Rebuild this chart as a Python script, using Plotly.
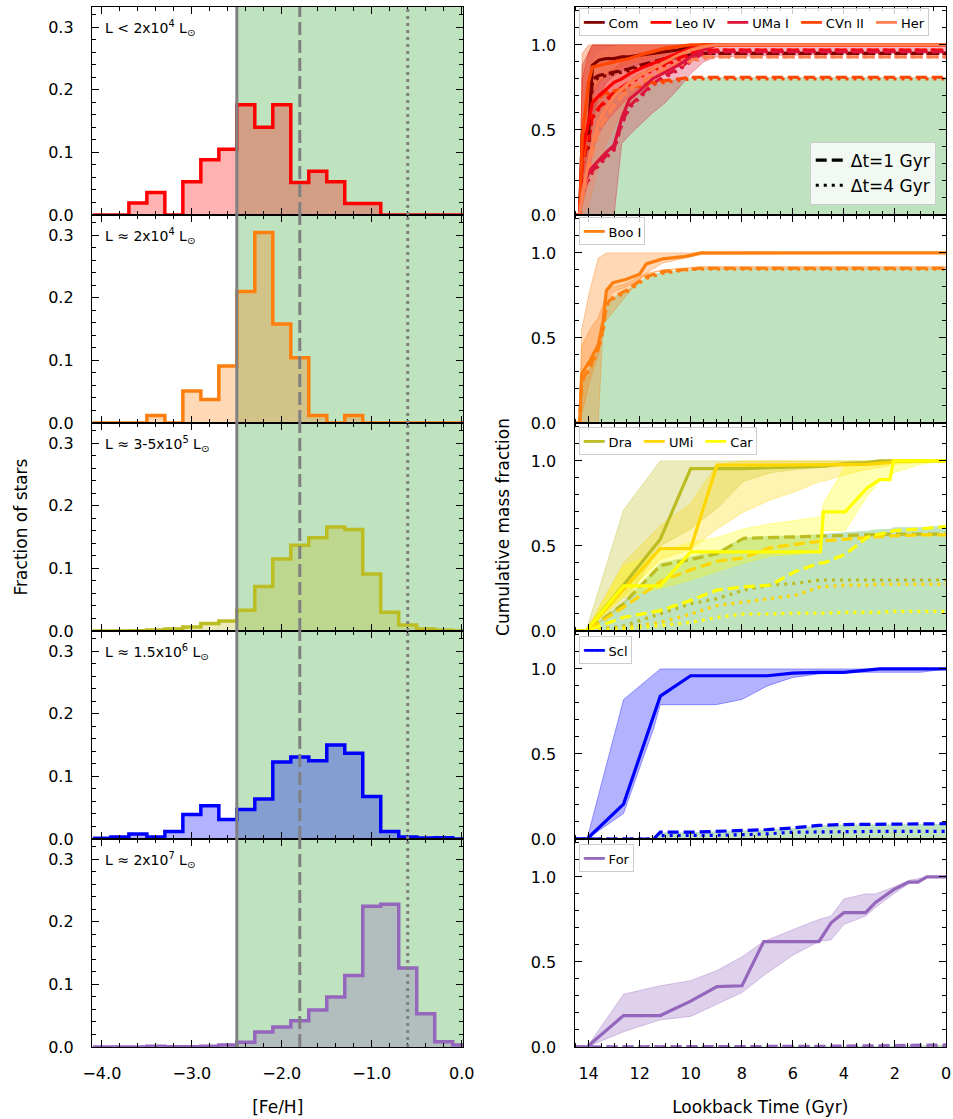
import plotly.graph_objects as go
from plotly.subplots import make_subplots

FONT = "DejaVu Sans"

# ---------------- left column: metallicity distributions ----------------
feh_edges = [-4.1, -3.9, -3.7, -3.5, -3.3, -3.1, -2.9, -2.7, -2.5, -2.3, -2.1,
             -1.9, -1.7, -1.5, -1.3, -1.1, -0.9, -0.7, -0.5, -0.3, -0.1, 0.1]
hist_uf = [0, 0, 0.019, 0.036, 0, 0.053, 0.088, 0.105, 0.176, 0.14, 0.176,
           0.052, 0.07, 0.053, 0.0185, 0.0185, 0, 0, 0, 0, 0]
hist_boo = [0, 0, 0, 0.012, 0, 0.051, 0.0375, 0.091, 0.21, 0.304, 0.158,
            0.104, 0.012, 0, 0.012, 0, 0, 0, 0, 0, 0]
hist_mid = [0, 0, 0.0005, 0.0015, 0.003, 0.0065, 0.012, 0.016, 0.033, 0.071, 0.115,
            0.137, 0.149, 0.166, 0.162, 0.091, 0.03, 0.0096, 0.003, 0.001, 0]
hist_scl = [0.001, 0.003, 0.008, 0.003, 0.012, 0.039, 0.053, 0.031, 0.047, 0.064, 0.123,
            0.131, 0.125, 0.15, 0.137, 0.068, 0.012, 0.003, 0.0015, 0.002, 0]
hist_for = [0, 0, 0, 0.001, 0.0005, 0.0005, 0.001, 0.003, 0.0075, 0.024, 0.032,
            0.042, 0.059, 0.08, 0.114, 0.2245, 0.228, 0.126, 0.053, 0.0085, 0.003]
hist_sets = [hist_uf, hist_boo, hist_mid, hist_scl, hist_for]
hist_colors = [(255, 0, 0), (255, 127, 14), (188, 189, 34), (0, 0, 255), (148, 103, 189)]
lum_labels = ["L < 2x10<sup>4</sup> L<sub>⊙</sub>",
              "L ≈ 2x10<sup>4</sup> L<sub>⊙</sub>",
              "L ≈ 3-5x10<sup>5</sup> L<sub>⊙</sub>",
              "L ≈ 1.5x10<sup>6</sup> L<sub>⊙</sub>",
              "L ≈ 2x10<sup>7</sup> L<sub>⊙</sub>"]
feh_cut = -2.5
feh_dash = -1.8
feh_dot = -0.6

# ---------------- right column: cumulative SFHs ----------------
t_uf = [14.55, 14.35, 14.25, 14.0, 13.85, 13.6, 13.3, 13.0, 12.7, 12.4, 12.0, 11.5, 11.0, 10.5, 10.0, 9.5, 9.0, 0.0]
com_solid = [0, 0, 0.47, 0.48, 0.88, 0.91, 0.92, 0.92, 0.93, 0.93, 0.94, 0.95, 0.96, 0.97, 0.99, 1.0, 1.0, 1.0]
com_dash = [0, 0, 0.33, 0.42, 0.80, 0.82, 0.83, 0.84, 0.85, 0.86, 0.88, 0.90, 0.92, 0.93, 0.94, 0.95, 0.95, 0.95]
com_dot = [0, 0, 0.32, 0.40, 0.78, 0.81, 0.82, 0.83, 0.84, 0.85, 0.87, 0.89, 0.91, 0.93, 0.94, 0.95, 0.95, 0.95]
com_lo = [0, 0, 0.10, 0.28, 0.55, 0.70, 0.78, 0.82, 0.85, 0.87, 0.89, 0.91, 0.93, 0.95, 0.97, 0.99, 1.0, 1.0]
com_hi = [0, 0, 0.88, 0.95, 1.0, 1.0, 1.0, 1.0, 1.0, 1.0, 1.0, 1.0, 1.0, 1.0, 1.0, 1.0, 1.0, 1.0]
leo_solid = [0, 0, 0.36, 0.55, 0.66, 0.70, 0.74, 0.78, 0.80, 0.83, 0.86, 0.89, 0.92, 0.95, 0.98, 1.0, 1.0, 1.0]
leo_dash = [0, 0, 0.30, 0.45, 0.58, 0.63, 0.68, 0.72, 0.75, 0.78, 0.82, 0.86, 0.89, 0.92, 0.95, 0.97, 0.97, 0.97]
leo_dot = [0, 0, 0.29, 0.44, 0.57, 0.62, 0.67, 0.71, 0.74, 0.77, 0.81, 0.85, 0.88, 0.91, 0.94, 0.96, 0.97, 0.97]
leo_lo = [0, 0, 0.05, 0.20, 0.38, 0.48, 0.55, 0.60, 0.65, 0.70, 0.75, 0.80, 0.85, 0.90, 0.94, 0.97, 0.99, 1.0]
leo_hi = [0, 0, 0.80, 0.95, 1.0, 1.0, 1.0, 1.0, 1.0, 1.0, 1.0, 1.0, 1.0, 1.0, 1.0, 1.0, 1.0, 1.0]
uma_solid = [0, 0, 0.16, 0.25, 0.28, 0.32, 0.37, 0.41, 0.57, 0.68, 0.73, 0.80, 0.84, 0.88, 0.93, 0.97, 1.0, 1.0]
uma_dash = [0, 0, 0.14, 0.22, 0.26, 0.30, 0.35, 0.39, 0.54, 0.64, 0.70, 0.77, 0.82, 0.86, 0.91, 0.95, 0.96, 0.96]
uma_dot = [0, 0, 0.13, 0.21, 0.25, 0.29, 0.34, 0.38, 0.53, 0.63, 0.69, 0.76, 0.81, 0.85, 0.90, 0.94, 0.96, 0.96]
uma_lo = [0, 0, 0, 0, 0, 0, 0, 0, 0.42, 0.47, 0.53, 0.60, 0.66, 0.74, 0.83, 0.90, 0.93, 0.96]
uma_hi = [0, 0, 0.55, 0.65, 0.72, 0.78, 0.83, 0.86, 0.90, 0.93, 0.95, 0.97, 0.99, 1.0, 1.0, 1.0, 1.0, 1.0]
cvn_solid = [0, 0, 0.45, 0.78, 0.87, 0.88, 0.89, 0.90, 0.91, 0.92, 0.94, 0.96, 0.98, 0.99, 1.0, 1.0, 1.0, 1.0]
cvn_dash = [0, 0, 0.30, 0.55, 0.68, 0.70, 0.72, 0.73, 0.74, 0.75, 0.76, 0.78, 0.79, 0.80, 0.81, 0.81, 0.81, 0.81]
cvn_dot = [0, 0, 0.29, 0.54, 0.67, 0.69, 0.71, 0.72, 0.73, 0.74, 0.75, 0.77, 0.78, 0.79, 0.80, 0.80, 0.80, 0.80]
cvn_lo = [0, 0, 0.20, 0.50, 0.70, 0.78, 0.82, 0.85, 0.87, 0.89, 0.91, 0.93, 0.95, 0.97, 0.99, 1.0, 1.0, 1.0]
cvn_hi = [0, 0, 0.95, 1.0, 1.0, 1.0, 1.0, 1.0, 1.0, 1.0, 1.0, 1.0, 1.0, 1.0, 1.0, 1.0, 1.0, 1.0]
her_solid = [0, 0, 0.12, 0.30, 0.42, 0.55, 0.63, 0.70, 0.74, 0.78, 0.82, 0.86, 0.90, 0.94, 0.97, 0.99, 1.0, 1.0]
her_dash = [0, 0, 0.10, 0.26, 0.37, 0.50, 0.58, 0.65, 0.70, 0.74, 0.78, 0.82, 0.86, 0.89, 0.91, 0.93, 0.93, 0.93]
her_dot = [0, 0, 0.09, 0.25, 0.36, 0.49, 0.57, 0.64, 0.69, 0.73, 0.77, 0.81, 0.85, 0.88, 0.90, 0.92, 0.93, 0.93]
her_lo = [0, 0, 0, 0.05, 0.15, 0.30, 0.42, 0.52, 0.60, 0.66, 0.72, 0.78, 0.83, 0.88, 0.93, 0.97, 0.99, 1.0]
her_hi = [0, 0, 0.55, 0.80, 0.90, 0.95, 0.97, 0.99, 1.0, 1.0, 1.0, 1.0, 1.0, 1.0, 1.0, 1.0, 1.0, 1.0]
uf_green = cvn_dash

t_boo = [14.55, 14.35, 14.27, 13.95, 13.62, 13.43, 13.3, 13.04, 12.52, 12.0, 11.74, 11.1, 10.19, 9.6, 0.0]
boo_solid = [0, 0, 0.29, 0.365, 0.46, 0.60, 0.78, 0.825, 0.845, 0.875, 0.935, 0.965, 0.98, 1.0, 1.0]
boo_dash = [0, 0, 0.25, 0.33, 0.44, 0.55, 0.70, 0.74, 0.78, 0.83, 0.86, 0.89, 0.90, 0.91, 0.91]
boo_dot = [0, 0, 0.24, 0.32, 0.43, 0.54, 0.69, 0.73, 0.77, 0.82, 0.85, 0.88, 0.90, 0.905, 0.905]
boo_lo = [0, 0, 0.05, 0.25, 0.40, 0.55, 0.72, 0.77, 0.80, 0.84, 0.88, 0.94, 0.97, 0.99, 1.0]
boo_hi = [0, 0, 0.55, 0.78, 0.97, 0.99, 1.0, 1.0, 1.0, 1.0, 1.0, 1.0, 1.0, 1.0, 1.0]
boo_dash_lo = [0, 0, 0, 0, 0, 0.58, 0.60, 0.65, 0.75, 0.84, 0.87, 0.90, 0.905, 0.91, 0.91]
boo_dash_hi = [0, 0, 0.45, 0.55, 0.62, 0.70, 0.78, 0.80, 0.82, 0.86, 0.88, 0.90, 0.91, 0.92, 0.92]

t_dsph = [14.55, 14.1, 12.63, 11.19, 10.0, 8.97, 7.93, 6.88, 5.9, 4.92, 4.8, 3.95, 3.1, 2.6, 2.2, 2.05, 1.0, 0.0]
dra_solid = [0, 0, 0.27, 0.54, 0.955, 0.955, 0.955, 0.96, 0.965, 0.97, 0.97, 0.985, 0.99, 1.0, 1.0, 1.0, 1.0, 1.0]
dra_lo = [0, 0, 0.15, 0.50, 0.60, 0.72, 0.88, 0.93, 0.95, 0.96, 0.96, 0.97, 0.98, 0.99, 0.99, 1.0, 1.0, 1.0]
dra_hi = [0, 0, 0.71, 1.0, 1.0, 1.0, 1.0, 1.0, 1.0, 1.0, 1.0, 1.0, 1.0, 1.0, 1.0, 1.0, 1.0, 1.0]
dra_dash = [0, 0, 0.16, 0.385, 0.42, 0.455, 0.545, 0.55, 0.555, 0.56, 0.56, 0.565, 0.565, 0.57, 0.57, 0.57, 0.57, 0.57]
dra_dot = [0, 0, 0.03, 0.10, 0.16, 0.19, 0.24, 0.27, 0.28, 0.30, 0.30, 0.30, 0.30, 0.30, 0.30, 0.30, 0.30, 0.30]
umi_solid = [0, 0, 0.245, 0.485, 0.485, 0.975, 0.975, 0.975, 0.975, 0.975, 0.975, 0.978, 0.98, 0.985, 0.99, 1.0, 1.0, 1.0]
umi_lo = [0, 0, 0.20, 0.42, 0.48, 0.60, 0.70, 0.77, 0.82, 0.88, 0.88, 0.92, 0.95, 0.96, 0.97, 0.98, 0.99, 1.0]
umi_hi = [0, 0, 0.40, 0.62, 0.75, 0.98, 1.0, 1.0, 1.0, 1.0, 1.0, 1.0, 1.0, 1.0, 1.0, 1.0, 1.0, 1.0]
umi_dash = [0, 0, 0.14, 0.29, 0.36, 0.41, 0.43, 0.49, 0.51, 0.53, 0.53, 0.54, 0.55, 0.555, 0.56, 0.56, 0.565, 0.565]
umi_dot = [0, 0, 0.02, 0.05, 0.10, 0.15, 0.17, 0.19, 0.21, 0.26, 0.26, 0.27, 0.27, 0.275, 0.275, 0.275, 0.275, 0.275]
car_solid = [0, 0, 0.265, 0.265, 0.465, 0.465, 0.465, 0.465, 0.465, 0.465, 0.70, 0.70, 0.84, 0.89, 0.89, 1.0, 1.0, 1.0]
car_lo = [0, 0, 0.20, 0.25, 0.30, 0.35, 0.40, 0.44, 0.45, 0.47, 0.59, 0.59, 0.79, 0.88, 0.91, 0.93, 0.98, 1.0]
car_hi = [0, 0, 0.38, 0.47, 0.52, 0.55, 0.60, 0.63, 0.65, 0.67, 0.75, 0.97, 1.0, 1.0, 1.0, 1.0, 1.0, 1.0]
car_dash = [0, 0, 0.08, 0.12, 0.18, 0.24, 0.26, 0.27, 0.35, 0.40, 0.40, 0.45, 0.55, 0.57, 0.58, 0.59, 0.60, 0.615]
car_dot = [0, 0, 0.01, 0.03, 0.05, 0.08, 0.10, 0.10, 0.105, 0.105, 0.105, 0.11, 0.11, 0.11, 0.115, 0.115, 0.115, 0.115]
dsph_green = [0, 0, 0.17, 0.40, 0.44, 0.47, 0.55, 0.56, 0.56, 0.57, 0.57, 0.58, 0.59, 0.60, 0.60, 0.61, 0.61, 0.62]

t_scl = [14.55, 14.06, 12.63, 11.45, 11.19, 10.0, 9.0, 8.0, 7.0, 6.0, 5.0, 4.0, 2.6, 1.0, 0.0]
scl_solid = [0, 0, 0.205, 0.725, 0.84, 0.96, 0.96, 0.96, 0.96, 0.975, 0.98, 0.98, 1.0, 1.0, 1.0]
scl_lo = [0, 0, 0.15, 0.65, 0.79, 0.79, 0.79, 0.82, 0.90, 0.95, 0.97, 0.98, 0.98, 0.98, 1.0]
scl_hi = [0, 0, 0.82, 0.97, 1.0, 1.0, 1.0, 1.0, 1.0, 1.0, 1.0, 1.0, 1.0, 1.0, 1.0]
scl_dash = [0, 0, 0, 0, 0.04, 0.04, 0.045, 0.05, 0.055, 0.065, 0.08, 0.085, 0.088, 0.09, 0.09]
scl_dot = [0, 0, 0, 0, 0.02, 0.02, 0.022, 0.025, 0.03, 0.04, 0.042, 0.045, 0.045, 0.045, 0.045]

t_for = [14.55, 14.06, 12.63, 11.19, 10.0, 8.97, 7.99, 7.14, 6.0, 4.98, 4.5, 4.0, 3.15, 2.76, 2.05, 1.46, 1.1, 0.75, 0.0]
for_solid = [0, 0, 0.185, 0.185, 0.27, 0.355, 0.36, 0.62, 0.62, 0.62, 0.73, 0.79, 0.79, 0.85, 0.925, 0.97, 0.97, 1.0, 1.0]
for_hi = [0, 0, 0.31, 0.36, 0.39, 0.45, 0.53, 0.62, 0.69, 0.75, 0.77, 0.87, 0.90, 0.90, 0.94, 0.98, 0.99, 1.0, 1.0]
for_lo = [0, 0, 0.09, 0.16, 0.18, 0.25, 0.32, 0.42, 0.54, 0.62, 0.63, 0.72, 0.77, 0.82, 0.90, 0.96, 0.98, 1.0, 1.0]
for_dash = [0, 0, 0.004, 0.004, 0.004, 0.004, 0.004, 0.004, 0.004, 0.004, 0.005, 0.005, 0.006, 0.006, 0.008, 0.01, 0.01, 0.012, 0.012]
for_dot = [0, 0, 0, 0, 0, 0, 0, 0, 0, 0, 0, 0, 0, 0, 0, 0, 0, 0.002, 0.002]

panels = [
    (t_uf, uf_green, [("Com", (128, 0, 0), com_solid, com_dash, com_dot, com_lo, com_hi),
                      ("Leo IV", (255, 0, 0), leo_solid, leo_dash, leo_dot, leo_lo, leo_hi),
                      ("UMa I", (220, 20, 60), uma_solid, uma_dash, uma_dot, uma_lo, uma_hi),
                      ("CVn II", (255, 69, 0), cvn_solid, cvn_dash, cvn_dot, cvn_lo, cvn_hi),
                      ("Her", (255, 127, 80), her_solid, her_dash, her_dot, her_lo, her_hi)]),
    (t_boo, boo_dash, [("Boo I", (255, 127, 14), boo_solid, boo_dash, boo_dot, boo_lo, boo_hi)]),
    (t_dsph, dsph_green, [("Dra", (188, 189, 34), dra_solid, dra_dash, dra_dot, dra_lo, dra_hi),
                          ("UMi", (255, 215, 0), umi_solid, umi_dash, umi_dot, umi_lo, umi_hi),
                          ("Car", (255, 255, 0), car_solid, car_dash, car_dot, car_lo, car_hi)]),
    (t_scl, scl_dash, [("Scl", (0, 0, 255), scl_solid, scl_dash, scl_dot, scl_lo, scl_hi)]),
    (t_for, for_dash, [("For", (148, 103, 189), for_solid, for_dash, for_dot, for_lo, for_hi)]),
]


def rgba(c, a):
    return "rgba(%d,%d,%d,%s)" % (c[0], c[1], c[2], a)


GREEN = "rgba(44,160,44,0.3)"
GRAY = "rgb(128,128,128)"
DASH = "11px,5px"
DOT = "3px,5px"
NB = "\u00a0"

fig = make_subplots(rows=5, cols=2, horizontal_spacing=0.13, vertical_spacing=0.0)

# ---------- left column ----------
for i, (vals, col) in enumerate(zip(hist_sets, hist_colors)):
    r = i + 1
    ystep = list(vals) + [vals[-1]]
    fig.add_trace(go.Scatter(x=feh_edges, y=ystep, mode="lines", line=dict(shape="hv", width=0),
                             fill="tozeroy", fillcolor=rgba(col, 0.3), showlegend=False,
                             hoverinfo="skip"), row=r, col=1)
    fig.add_trace(go.Scatter(x=feh_edges, y=ystep, mode="lines",
                             line=dict(shape="hv", width=3.5, color=rgba(col, 1)),
                             showlegend=False), row=r, col=1)
    n = 2 * i + 1
    xr = "x" if n == 1 else "x%d" % n
    yr = ("y" if n == 1 else "y%d" % n) + " domain"
    fig.add_shape(type="rect", xref=xr, yref=yr, x0=feh_cut, x1=0.1, y0=0, y1=1,
                  fillcolor=GREEN, line=dict(width=0), layer="below")
    fig.add_shape(type="line", xref=xr, yref=yr, x0=feh_cut, x1=feh_cut, y0=0, y1=1,
                  line=dict(color=GRAY, width=3), layer="above")
    fig.add_shape(type="line", xref=xr, yref=yr, x0=feh_dash, x1=feh_dash, y0=0, y1=1,
                  line=dict(color=GRAY, width=3, dash="13px,5px"), layer="above")
    fig.add_shape(type="line", xref=xr, yref=yr, x0=feh_dot, x1=feh_dot, y0=0, y1=1,
                  line=dict(color=GRAY, width=3, dash="3px,4px"), layer="above")
    fig.add_annotation(xref=xr + " domain", yref=yr, x=0.03, y=0.9,
                       xanchor="left", yanchor="middle", showarrow=False,
                       text=lum_labels[i], font=dict(family=FONT, size=14, color="black"))

# ---------- right column ----------
legend_tops = [0.999, 0.798, 0.596, 0.395, 0.195]
for i, (tt, gtop, gals) in enumerate(panels):
    r = i + 1
    fig.add_trace(go.Scatter(x=tt, y=gtop, mode="lines", line=dict(width=0), fill="tozeroy",
                             fillcolor=GREEN, showlegend=False, hoverinfo="skip"), row=r, col=2)
    for name, c, s, d, o, lo, hi in gals:
        fig.add_trace(go.Scatter(x=list(tt) + list(tt)[::-1], y=list(hi) + list(lo)[::-1],
                                 mode="lines", fill="toself", fillcolor=rgba(c, 0.3),
                                 line=dict(width=1, color=rgba(c, 0.35)), showlegend=False,
                                 hoverinfo="skip"), row=r, col=2)
    if i == 1:
        c = gals[0][1]
        fig.add_trace(go.Scatter(x=list(tt) + list(tt)[::-1],
                                 y=list(boo_dash_hi) + list(boo_dash_lo)[::-1],
                                 mode="lines", fill="toself", fillcolor=rgba(c, 0.3),
                                 line=dict(width=1, color=rgba(c, 0.35)), showlegend=False,
                                 hoverinfo="skip"), row=r, col=2)
    for name, c, s, d, o, lo, hi in gals:
        fig.add_trace(go.Scatter(x=tt, y=o, mode="lines", line=dict(color=rgba(c, 1), width=3.2, dash=DOT),
                                 showlegend=False), row=r, col=2)
        fig.add_trace(go.Scatter(x=tt, y=d, mode="lines", line=dict(color=rgba(c, 1), width=3.2, dash=DASH),
                                 showlegend=False), row=r, col=2)
    for name, c, s, d, o, lo, hi in gals:
        fig.add_trace(go.Scatter(x=tt, y=s, mode="lines", name=name, showlegend=False,
                                 line=dict(color=rgba(c, 1), width=3.2)), row=r, col=2)
    # compact legend box for the galaxies of this panel
    parts = []
    for name, c, s, d, o, lo, hi in gals:
        parts.append("<span style='color:%s;font-size:17px'>━━</span>%s%s" % (rgba(c, 1), NB, name))
    fig.add_annotation(xref="paper", yref="paper", x=0.5705, y=legend_tops[i],
                       xanchor="left", yanchor="top", showarrow=False, align="left",
                       text=(NB * 3).join(parts), bgcolor="rgba(255,255,255,0.8)",
                       bordercolor="rgb(204,204,204)", borderwidth=1, borderpad=3,
                       font=dict(family=FONT, size=13, color="black"))

fig.add_trace(go.Scatter(x=[None], y=[None], mode="lines", name="Δt=1 Gyr", legend="legend",
                         line=dict(color="black", width=3.2, dash=DASH)), row=1, col=2)
fig.add_trace(go.Scatter(x=[None], y=[None], mode="lines", name="Δt=4 Gyr", legend="legend",
                         line=dict(color="black", width=3.2, dash=DOT)), row=1, col=2)

# ---------- axes ----------
common = dict(showline=True, linecolor="black", linewidth=1.3, mirror="allticks", ticks="inside",
              ticklen=7, tickwidth=1.3, tickcolor="black", showgrid=False, zeroline=False,
              tickfont=dict(family=FONT, size=16, color="black"),
              minor=dict(ticks="inside", ticklen=4, tickwidth=1.1, tickcolor="black", showgrid=False))
fig.update_xaxes(**common)
fig.update_yaxes(**common)
for r in range(1, 6):
    fig.update_xaxes(range=[-4.11, 0.02], dtick=1, tick0=0, tickformat=".1f",
                     minor_dtick=0.2, minor_tick0=0, showticklabels=(r == 5),
                     ticklabelstandoff=12, row=r, col=1)
    fig.update_xaxes(range=[14.55, 0], dtick=2, tick0=0, minor_dtick=0.5, minor_tick0=0,
                     showticklabels=(r == 5), ticklabelstandoff=12, row=r, col=2)
    fig.update_yaxes(range=[0, 0.332], dtick=0.1, tick0=0, tickformat=".1f",
                     minor_dtick=0.02, minor_tick0=0, ticklabelstandoff=14, row=r, col=1)
    fig.update_yaxes(range=[0, 1.223], dtick=0.5, tick0=0, tickformat=".1f",
                     minor_dtick=0.1, minor_tick0=0, ticklabelstandoff=14, row=r, col=2)

title_font = dict(family=FONT, size=17, color="black")
fig.update_xaxes(title=dict(text="[Fe/H]", font=title_font, standoff=18), row=5, col=1)
fig.update_xaxes(title=dict(text="Lookback Time (Gyr)", font=title_font, standoff=18), row=5, col=2)
fig.update_yaxes(title=dict(text="Fraction of stars", font=title_font, standoff=16), row=3, col=1)
fig.update_yaxes(title=dict(text="Cumulative mass fraction", font=title_font, standoff=16), row=3, col=2)

fig.update_layout(
    width=953, height=1119,
    margin=dict(l=92, r=7, t=7, b=72, autoexpand=False),
    paper_bgcolor="white", plot_bgcolor="white",
    font=dict(family=FONT, color="black"),
    legend=dict(x=0.988, y=0.81, xanchor="right", yanchor="bottom", orientation="v",
                bgcolor="rgba(255,255,255,0.8)", bordercolor="rgb(204,204,204)", borderwidth=1,
                font=dict(family=FONT, size=17, color="black")),
)

fig.write_html("out.html")
